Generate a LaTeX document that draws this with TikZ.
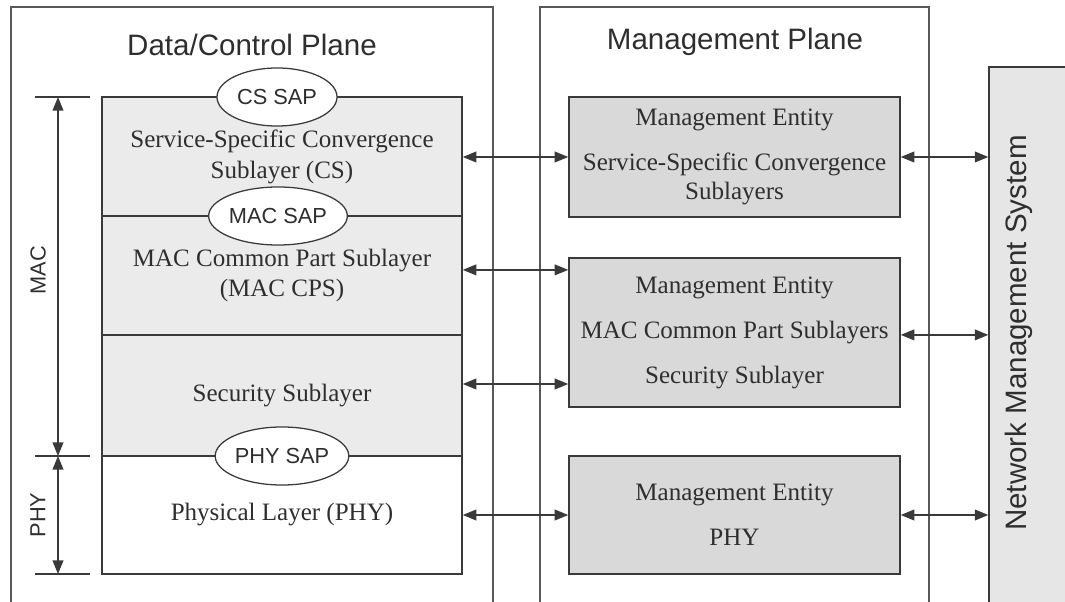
\documentclass[tikz,border=0pt]{standalone}
\usepackage{fontspec}
\setmainfont{Liberation Serif}
\setsansfont{Liberation Sans}
\usetikzlibrary{arrows.meta,shapes.geometric,positioning,calc}
\definecolor{layergray}{HTML}{EBEBEB}
\definecolor{megray}{HTML}{D9D9D9}
\definecolor{nmsgray}{HTML}{E6E6E6}
\definecolor{linegray}{HTML}{3A3A3A}
\definecolor{textgray}{HTML}{2E2E2E}

\begin{document}
\begin{tikzpicture}[x=0.025cm,y=-0.025cm,
  plane/.style={draw=linegray!85,line width=0.9pt},
  layer/.style={draw=linegray,line width=1pt,fill=layergray,minimum width=9cm,
    inner sep=0pt,align=center,text=textgray,font=\fontsize{17.8}{22}\selectfont},
  mgmt/.style={draw=linegray,line width=1pt,fill=megray,minimum width=8.275cm,
    inner sep=0pt,align=center,text=textgray,font=\fontsize{17.8}{21}\selectfont},
  sap/.style={ellipse,draw=linegray,line width=0.9pt,fill=white,minimum width=3cm,
    minimum height=1.45cm,inner sep=0pt,text=textgray,font=\sffamily\fontsize{15.5}{17}\selectfont},
  title/.style={text=textgray,font=\sffamily\fontsize{21}{25}\selectfont},
  link/.style={{Triangle[length=0.34cm,width=0.27cm]}-{Triangle[length=0.34cm,width=0.27cm]},
    draw=linegray,line width=1pt},
  dim/.style={draw=linegray,line width=1pt}]
  \useasboundingbox (0,0) rectangle (1065,602);
 %the two planes
  %draw outlines
    \draw[plane] (11,620) |- (493,7) -- (493,620);
    \draw[plane] (540,620) |- (929,7) -- (929,620);
    \node[title] (dcp) at (252,45) {Data/Control Plane};
    \node[title] (mp) at (735,42) {Management Plane};
  %network management system
    \node[draw=linegray,line width=0.9pt,fill=nmsgray,minimum width=2.275cm,
      minimum height=13.825cm,inner sep=0pt] (nms) at (1034.5,343.5) {};
    \node[title,rotate=90] (nmstext) at (1019,333) {Network Management System};
  %layers of the data/control plane
    \node[layer,minimum height=2.975cm] (cs) at (282,156.5)
      {Service-Specific Convergence\\Sublayer (CS)};
    \node[layer,minimum height=2.975cm] (cps) at (282,275.5)
      {MAC Common Part Sublayer\\(MAC CPS)};
    \node[layer,minimum height=3.025cm] (sec) at (282,395.5) {Security Sublayer};
    \node[layer,fill=white,minimum height=2.95cm] (phy) at (282,515)
      {Physical Layer (PHY)};
  %service access points
    \node[sap] (cssap) at (277,97) {CS SAP};
    \node[sap] (macsap) at (278,216) {MAC SAP};
    \node[sap] (physap) at (282,456) {PHY SAP};
  %management entities
    \node[mgmt,minimum height=3cm] (me1) at (734.5,157)
      {Management Entity\\[11pt]Service-Specific Convergence\\Sublayers};
    \node[mgmt,minimum height=3.725cm] (me2) at (734.5,332.5)
      {Management Entity\\[11pt]MAC Common Part Sublayers\\[11pt]Security Sublayer};
    \node[mgmt,minimum height=2.95cm] (me3) at (734.5,515)
      {Management Entity\\[11pt]PHY};
  %arrow ends
    \coordinate (csout) at ([yshift=-0.0125cm]cs.east);
    \coordinate (cpsout) at ([yshift=0.14cm]cps.east);
    \coordinate (secout) at ([yshift=0.2875cm]sec.east);
    \coordinate (me2out) at ([yshift=-0.06cm]me2.east);
  %arrows between planes
    \draw[link] (csout) -- (me1.west |- csout);
    \draw[link] (cpsout) -- (me2.west |- cpsout);
    \draw[link] (secout) -- (me2.west |- secout);
    \draw[link] (phy.east) -- (me3.west |- phy.east);
    \draw[link] (me1.east) -- (nms.west |- me1.east);
    \draw[link] (me2out) -- (nms.west |- me2out);
    \draw[link] (me3.east) -- (nms.west |- me3.east);
  %mac and phy extent
    \coordinate (t1) at (35,97);
    \coordinate (t2) at (35,456);
    \coordinate (t3) at (35,574);
    \draw[dim] (t1) -- ++(55,0);
    \draw[dim] (t2) -- ++(55,0);
    \draw[dim] (t3) -- ++(55,0);
    \draw[link] ($(t1)+(23,0)$) -- ($(t2)+(23,0)$);
    \draw[link] ($(t2)+(23,0)$) -- ($(t3)+(23,0)$);
    \node[title,rotate=90,font=\sffamily\fontsize{15.5}{18}\selectfont] (mac) at (38,270) {MAC};
    \node[title,rotate=90,font=\sffamily\fontsize{15.5}{18}\selectfont] (phylabel) at (38,515) {PHY};
\end{tikzpicture}
\end{document}
